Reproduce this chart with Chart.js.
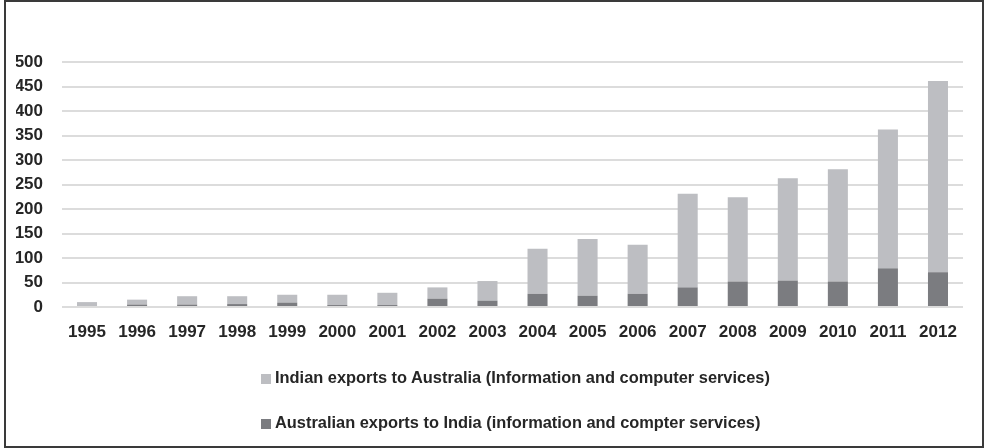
<!DOCTYPE html>
<html>
<head>
<meta charset="utf-8">
<script src="https://cdn.jsdelivr.net/npm/chart.js@4/dist/chart.umd.min.js"></script>
<style>
  html, body { margin: 0; padding: 0; background: #fff; }
  #frame {
    position: absolute; left: 4px; top: 0; width: 976px; height: 444px;
    border: 2px solid #3a3a3a;
  }
  #wrap { position: absolute; left: 0; top: 0; width: 984px; height: 448px; }
  .legend-item {
    position: absolute; left: 261px; height: 20px; line-height: 20px;
    font: bold 16.4px "Liberation Sans", Arial, sans-serif; color: #262626;
    white-space: nowrap;
  }
  .legend-item span.box {
    display: inline-block; width: 10px; height: 10px; margin-right: 4px;
    vertical-align: -1px;
  }
</style>
</head>
<body>
<div id="frame"></div>
<div id="wrap"><canvas id="chart" width="984" height="448"></canvas></div>
<div id="legend"></div>
<script>
const years = ["1995", "1996", "1997", "1998", "1999", "2000", "2001", "2002", "2003",
  "2004", "2005", "2006", "2007", "2008", "2009", "2010", "2011", "2012"];
const australianExports = [0, 5, 5, 6, 9, 4, 4, 17, 13, 27, 23, 27, 40, 52, 54, 52, 79, 71];
const indianExports = [10, 10, 17, 16, 16, 21, 25, 23, 40, 92, 116, 100, 191, 172, 209, 229, 283, 390];
const yTicks = [0, 50, 100, 150, 200, 250, 300, 350, 400, 450, 500];

const indianLabel = "Indian exports to Australia (Information and computer services)";
const australianLabel = "Australian exports to India (information and compter services)";
const lightGrey = "#bdbec2";
const darkGrey = "#7b7c80";
const font = { family: "'Liberation Sans', Arial, sans-serif", size: 17, weight: "bold" };

function buildLegend() {
  const legend = document.getElementById("legend");
  const items = [
    { label: indianLabel, color: lightGrey, top: 368 },
    { label: australianLabel, color: darkGrey, top: 413 },
  ];
  items.forEach((item) => {
    const div = document.createElement("div");
    div.className = "legend-item";
    div.style.top = item.top + "px";
    const box = document.createElement("span");
    box.className = "box";
    box.style.background = item.color;
    div.appendChild(box);
    div.appendChild(document.createTextNode(item.label));
    legend.appendChild(div);
  });
}

new Chart(document.getElementById("chart"), {
  type: "bar",
  data: {
    labels: years,
    datasets: [
      { label: australianLabel, data: australianExports, backgroundColor: darkGrey,
        categoryPercentage: 0.8, barPercentage: 0.5 },
      { label: indianLabel, data: indianExports, backgroundColor: lightGrey,
        categoryPercentage: 0.8, barPercentage: 0.5 },
    ],
  },
  options: {
    responsive: false,
    animation: false,
    layout: { padding: { top: 62, left: 16, right: 21, bottom: 101 } },
    plugins: { legend: { display: false }, tooltip: { enabled: false } },
    scales: {
      x: {
        stacked: true,
        grid: { display: false, drawTicks: false },
        border: { display: false },
        ticks: { color: "#262626", font: font, padding: 15, maxRotation: 0 },
        afterFit: (scale) => { scale.height = 40; },
      },
      y: {
        stacked: true,
        min: 0,
        max: 500,
        grid: { color: "#dcdcdc", lineWidth: 2, drawTicks: false },
        border: { display: false },
        afterBuildTicks: (scale) => { scale.ticks = yTicks.map((v) => ({ value: v })); },
        ticks: { color: "#262626", font: font, padding: 19 },
        afterFit: (scale) => { scale.width = 46; },
      },
    },
  },
});

buildLegend();
</script>
</body>
</html>
